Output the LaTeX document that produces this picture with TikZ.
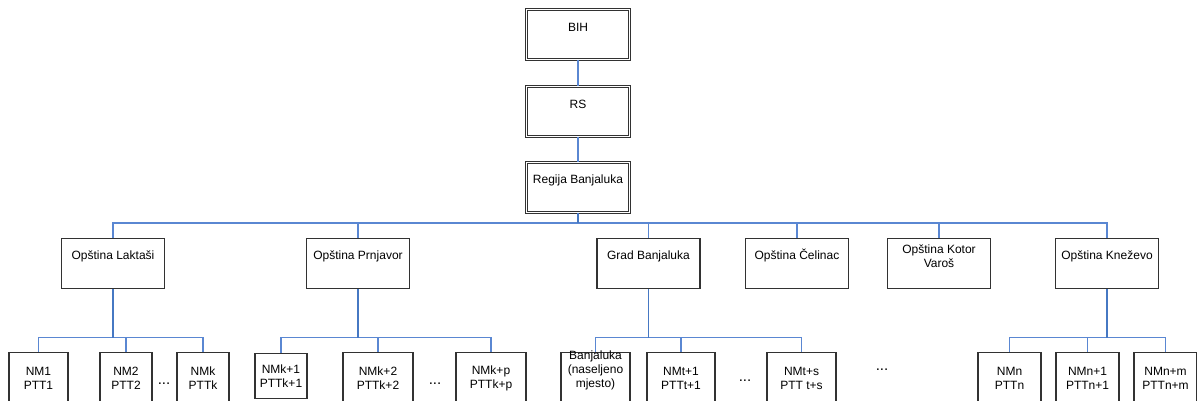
\documentclass[tikz,border=0pt]{standalone}
\usepackage{fontspec}
\setmainfont{Liberation Sans}
\usepackage{tikz}
\usetikzlibrary{positioning,calc}
\definecolor{LinkBlue}{RGB}{70,120,195}
\definecolor{LinkLight}{RGB}{90,135,210}
\definecolor{BoxGray}{RGB}{50,50,50}
\tikzset{
    unitbox/.style={draw=BoxGray, line width=1.1pt, minimum width=#1, minimum height=50pt, inner sep=0pt, anchor=north},
    unitbox/.default=103pt,
    topbox/.style={unitbox, double=white, double distance=1.8pt, line width=1pt},
    boxtext/.style={label={[anchor=center, yshift=-18pt, align=center, font=\fontsize{12}{14.5}\selectfont]north:#1}},
    placebox/.style={draw=BoxGray, line width=1.1pt, minimum width=#1, minimum height=52pt, inner sep=0pt, anchor=north, align=center, font=\fontsize{12}{14}\selectfont},
    dotsnode/.style={font=\fontsize{15}{15}\selectfont},
    branch/.style={draw=LinkLight, line width=1.2pt},
    stem/.style={draw=LinkBlue, line width=1.7pt}
}

\begin{document}
\begin{tikzpicture}[x=1pt, y=-1pt]
    \clip (0,0) rectangle (1197,401);
    % top chain
    \node[topbox, boxtext=BIH] (bih) at (578,9) {};
    \node[topbox, boxtext=RS] (rs) at (578,86) {};
    \node[topbox, boxtext=Regija Banjaluka] (regija) at (578,162) {};
    \draw[branch] (bih.south) -- (rs.north);
    \draw[branch] (rs.south) -- (regija.north);

    % opstine
    \node[unitbox, boxtext=Opština Laktaši] (laktasi) at (113,238) {};
    \node[unitbox, boxtext=Opština Prnjavor] (prnjavor) at (358,238) {};
    \node[unitbox, boxtext=Grad Banjaluka] (grad) at (648.5,238) {};
    \node[unitbox, boxtext=Opština Čelinac] (celinac) at (797,238) {};
    \node[unitbox, boxtext={Opština Kotor\\Varoš}] (kotor) at (939,238) {};
    \node[unitbox, boxtext=Opština Kneževo] (knezevo) at (1107,238) {};

    \foreach \o in {laktasi,prnjavor,grad,celinac,kotor,knezevo}
        \draw[branch] (regija.south) -- ++(0,10) -| (\o.north);
    \draw[stem] (regija.south) -- ++(0,10);

    % naseljena mjesta
    \node[placebox=59pt] (nm1) at (38.5,352) {NM1\\PTT1};
    \node[placebox=52pt] (nm2) at (126,352) {NM2\\PTT2};
    \node[placebox=52pt] (nmk) at (203,352) {NMk\\PTTk};
    \node[placebox=52pt, minimum height=45pt] (nmk1) at (281,353) {NMk+1\\PTTk+1};
    \node[placebox=70pt] (nmk2) at (378,352) {NMk+2\\PTTk+2};
    \node[placebox=70pt] (nmkp) at (491,352) {NMk+p\\PTTk+p};
    \node[placebox=69pt] (bl) at (595.5,352) {};
    \node[align=center, font=\fontsize{12}{14}\selectfont] (bltext) at (595.5,370) {Banjaluka\\(naseljeno\\mjesto)};
    \node[placebox=68pt] (nmt1) at (681,352) {NMt+1\\PTTt+1};
    \node[placebox=69pt] (nmts) at (801.5,352) {NMt+s\\PTT t+s};
    \node[placebox=63pt] (nmn) at (1009.5,352) {NMn\\PTTn};
    \node[placebox=63pt] (nmn1) at (1087.5,352) {NMn+1\\PTTn+1};
    \node[placebox=63pt] (nmnm) at (1165.5,352) {NMn+m\\PTTn+m};

    % dots
    \node[dotsnode] (dots1) at (164,384) {...};
    \node[dotsnode] (dots2) at (435,384) {...};
    \node[dotsnode] (dots3) at (745,381) {...};
    \node[dotsnode] (dots4) at (882,370) {...};

    \foreach \p/\c in {laktasi/nm1,laktasi/nm2,laktasi/nmk,
                       prnjavor/nmk1,prnjavor/nmk2,prnjavor/nmkp,
                       grad/bl,grad/nmt1,grad/nmts,
                       knezevo/nmn,knezevo/nmn1,knezevo/nmnm}
        \draw[branch] (\p.south) -- ++(0,48.5) -| (\c.north);
    \foreach \p in {laktasi,prnjavor,grad,knezevo}
        \draw[stem] (\p.south) -- ++(0,48.5);
\end{tikzpicture}
\end{document}
